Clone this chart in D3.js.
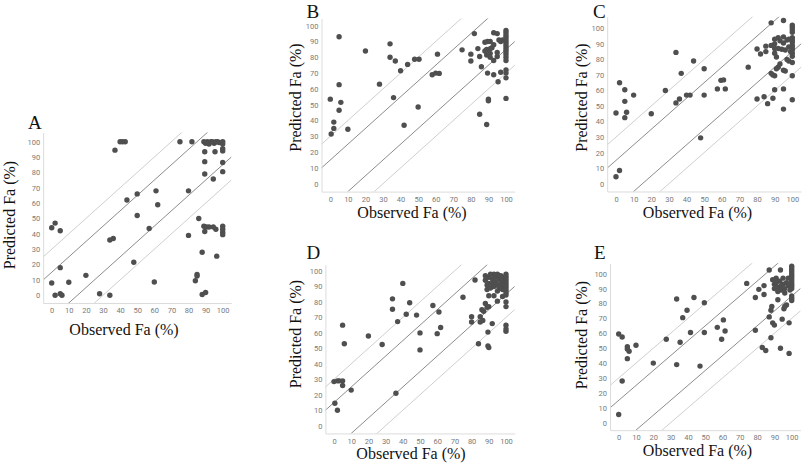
<!DOCTYPE html>
<html><head><meta charset="utf-8">
<script src="https://cdn.jsdelivr.net/npm/d3@7"></script>
<style>
html,body{margin:0;padding:0;background:#fff;}
svg{display:block;}
</style></head>
<body>
<svg id="chart" width="803" height="465"></svg>
<script>
// ---------- DATA ----------
const tickValues = [0,10,20,30,40,50,60,70,80,90,100];
const bandOffsets = [-30,-15,15,30];
const panelLetters = ["A","B","C","D","E"];
const xTitle = "Observed Fa (%)";
const yTitle = "Predicted Fa (%)";

const obsA  = [0,0,2,5,5,2,5,6,10,20,28,34,34,36,37,40,41.5,43,44,48,50,50,57,61,62,60,75,82,80,80,86,88,85,85,84,88,90,
  89,90,91,92,93,94,95,96,97,98,100,100,89.5,95.5,100,100,89.5,100,89.5,94.5,100,
  89,90.5,92,94.5,96,89.5,100,100,100,100,96.5];
const predA = [8,44,47,42,18,0,1,0,8.5,13,1,0,36,37,94.5,100,100,100,62,21.5,66,52,43.5,68,59,8.7,100,100,68,39,50,28,13.5,12.5,9.5,0.5,1.8,
  100,99,100,98.5,100,100,99,100,100,99.5,100,98.5,93.5,93.5,95.5,94,87,86.5,79,75.7,80.5,
  45,44.5,44.5,44.5,43,41.5,45,43,41,39.5,25.5];

const obsB  = [0,0.5,2,2,5,5,6,5,10,20,28,34,34,37,36,40,42,44,48,50.5,50,58,60,62,61,75,80,80,82,84,85,86,85,89,90,90,89.5,
  88,89.5,91,89,90,91,89,91,91,93,95,96,97,98,95,95,93,93,95.5,97,
  100,100,100,100,100,100,100,100,100,100,100,100,100,100,100,100,100,92,88,93];
const predB = [53.5,31.5,39,35,93,62.7,51.5,46.5,34.5,84,63,88.5,80,77.7,54.5,71.5,37,75.5,78.8,78.8,48.5,69,70,69.8,82,84.7,82,77.7,95,85.5,80.5,74,44,37.5,53.5,52.5,70,
  89.5,90,90,85,84.5,85.5,81.5,82.5,80,95.5,95,91,90,91,83,80.5,78,69,64.5,70.5,
  97,95.5,94,92.5,91,89.5,88,86.5,85,83.5,82,80,78,72,70,67,54,86,84,88];

const obsC  = [0,2,0,2,5,5,5,6,10,20,28,34,34,36,37,40,42,44,50,50,48,57.5,59.5,61,62,75,80,82,85,85,80,84,86,88,89,90,
  88,89,90,91,92,93,95,96,97,98,95,95,95,100,100,
  100,100,100,100,100,100,100,100,100,100,100,100,100,
  90,90,90,90,91,92,93,94,95,95,96,97,98,98,99,92,88];
const predC = [4.5,8.5,45.5,65,60.5,53,42.5,46,57,45,60,84.5,52,54.5,71,57,57,79,74,57,29.5,61,66.5,66.8,61,75,86.7,83.5,88.5,85,54.5,56,51.5,103.5,55,60.5,
  71,70,69.5,74,75,77,73,72.5,80,79,105,61,48,69.5,54,
  102,100.5,99,97.5,94,92.5,91,89,87.5,86,84,82,78,
  93,90,87,84,81.5,87,92,86.5,94.5,90.5,86,92.5,88,93,85,94,89];

const obsD  = [0,2,3,5,5,0.5,2,10,5,6,20,28,34,34,37,40,42,44,48,50,50,57.5,60,61,62,36,75,80,80,82,84,85,85,86,87,88,86.5,89,90,89.5,89.5,90,90,92,93,95,98,100,100,100,100,100,
  88,88,89,89,90,90,91,91,92,92,93,93,94,94,95,95,95,96,96,97,97,97,98,98,99,99,100,100,100,100,100,100,100,100,100,100];
const predD = [28.5,29,29,29,26,14.5,10,23,65,53,58,52.5,82,75.3,67.3,92,72,79.5,71.5,60,49,77.7,59.5,73.5,63.5,21,83,70.5,67,94.2,53,70.5,67,75,74,79,68,76.5,77,60.5,51.5,50.5,84,66,84,80.5,83.5,80,77,65,62.5,61,
  97,94,91,88,96,92,98,89,95,92,98,90,96,93,98,91,87,95,89,97,93,90,96,88,94,91,98,96.5,95,93.5,92,90.5,89,87.5,86,84.5];

const obsE  = [0,0,2,2,5,5,6,5,10,20,27.5,33.5,33.5,35.5,37,39.5,41.5,43.5,47,49.5,49.5,57,59.5,60.5,61.5,74,79,81,79,83,85,84,84,87,87,88,88.5,88,89,90,93.5,93.5,94.5,92,96,97,96,98.5,98.5,95.5,
  100,100,100,100,100,100,100,100,100,100,100,100,100,100,
  89,90,90,91,91,92,92,93,94,94,95,95,96,97,98,98,99];
const predE = [5.5,59.5,57.5,28,51,49.5,48,43,52,40,56,83,39,54,70.5,75.5,60.5,84,38,80.5,60.5,64,56,69,61.5,93.5,84,89.5,62,50.5,48.5,92,86,102.5,71,75.5,78,57,67,65.5,102.5,50,69.5,82.5,78,79,87,67,46.5,76.5,
  105,103.5,102,100.5,99,97.5,96,94.5,93,91.5,90,85,83.5,82,
  96,93,90,97,94,91,88,95,92,89,97,93,90,94,97,92,89];

// ---------- LAYOUT ----------
const panels = [
  {obs: obsA, pred: predA, x0: 51.7, x100: 222.7, y0: 295.3, y100: 141.7, yTop: 106,
   title: [28, 128.5], ylab: [14.5, 215], xlab: [124, 335]},
  {obs: obsB, pred: predB, x0: 330.3, x100: 506, y0: 183.7, y100: 25.7, yTop: 104.5,
   title: [306.5, 17.5], ylab: [300.5, 97.5], xlab: [412, 218]},
  {obs: obsC, pred: predC, x0: 616, x100: 792.3, y0: 183.7, y100: 28.3, yTop: 107.5,
   title: [593, 17.5], ylab: [587, 97.5], xlab: [697.5, 218]},
  {obs: obsD, pred: predD, x0: 334, x100: 506, y0: 425.7, y100: 271, yTop: 104,
   title: [306.5, 259], ylab: [300.5, 334], xlab: [411, 459]},
  {obs: obsE, pred: predE, x0: 618.7, x100: 791.7, y0: 422.7, y100: 273.7, yTop: 107,
   title: [594, 259], ylab: [587, 335], xlab: [697.5, 456]}
];

const svg = d3.select("#chart");
const serif = "'Liberation Serif','Times New Roman',serif";
const sans = "Roboto, 'Open Sans', sans-serif";

panels.forEach((p, i) => {
  const kx = (p.x100 - p.x0) / 100;
  const ky = (p.y0 - p.y100) / 100;
  const x = d3.scaleLinear().domain([-5, 105]).range([p.x0 - 5*kx, p.x100 + 5*kx]);
  const y = d3.scaleLinear().domain([-5, p.yTop]).range([p.y0 + 5*ky, p.y0 - p.yTop*ky]);
  const g = svg.append("g");

  const clipId = "clip" + i;
  svg.append("clipPath").attr("id", clipId).append("rect")
    .attr("x", x(-5)).attr("y", y(p.yTop))
    .attr("width", x(105) - x(-5)).attr("height", y(-5) - y(p.yTop));

  g.append("g").attr("clip-path", `url(#${clipId})`)
    .selectAll("line").data(bandOffsets).join("line")
    .attr("x1", x(-10)).attr("y1", d => y(-10 + d))
    .attr("x2", x(120)).attr("y2", d => y(120 + d))
    .attr("stroke", d => Math.abs(d) === 15 ? "#8c8c8c" : "#cfcfcf")
    .attr("stroke-width", 1);

  const xa = g.append("g").attr("transform", `translate(0,${y(-5)})`)
    .call(d3.axisBottom(x).tickValues(tickValues).tickSize(0).tickPadding(5).tickFormat(d3.format("d")));
  const ya = g.append("g").attr("transform", `translate(${x(-5)},0)`)
    .call(d3.axisLeft(y).tickValues(tickValues).tickSize(0).tickPadding(3).tickFormat(d3.format("d")));
  [xa, ya].forEach(a => {
    a.select(".domain").attr("stroke", "#dcdcdc").attr("stroke-width", 1);
    a.selectAll("text").attr("fill", "#7a7a7a").style("font-size", "7.5px").style("font-family", sans);
  });

  const pts = p.obs.map((v, j) => [v, p.pred[j]]);
  g.append("g").selectAll("circle").data(pts).join("circle")
    .attr("cx", d => x(d[0])).attr("cy", d => y(d[1]))
    .attr("r", 2.7).attr("fill", "#4f4f4f");

  g.append("text").attr("x", p.title[0]).attr("y", p.title[1])
    .text(panelLetters[i]).attr("font-family", serif).attr("font-size", 19).attr("fill", "#111");
  g.append("text").attr("transform", `translate(${p.ylab[0]},${p.ylab[1]}) rotate(-90)`)
    .attr("text-anchor", "middle").text(yTitle)
    .attr("font-family", serif).attr("font-size", 16).attr("fill", "#111");
  g.append("text").attr("x", p.xlab[0]).attr("y", p.xlab[1])
    .attr("text-anchor", "middle").text(xTitle)
    .attr("font-family", serif).attr("font-size", 16).attr("fill", "#111");
});
</script>
</body></html>
